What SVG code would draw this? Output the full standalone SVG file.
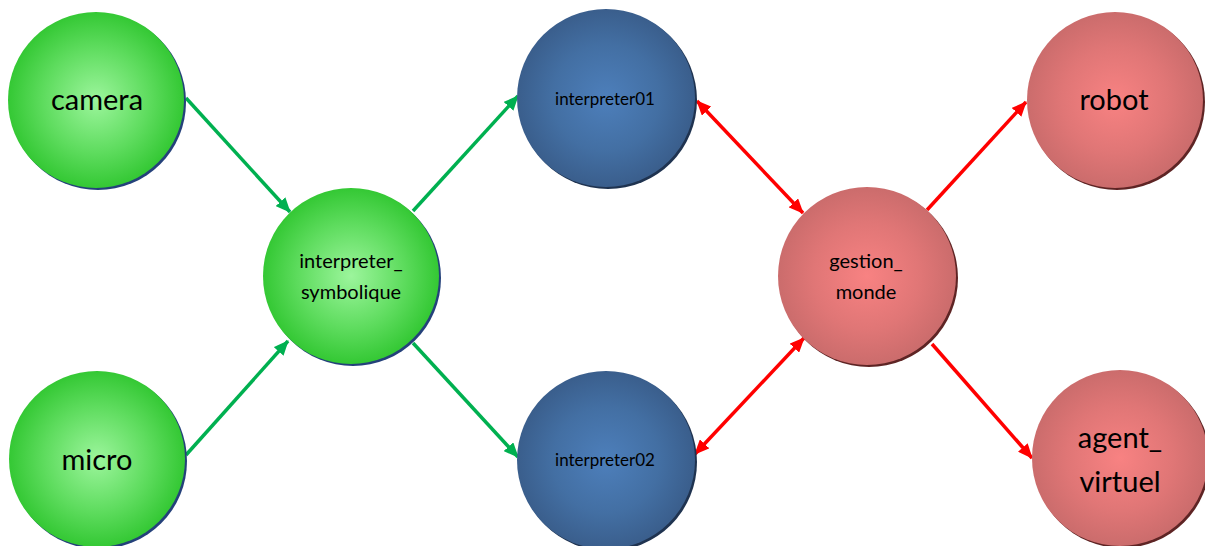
<svg xmlns="http://www.w3.org/2000/svg" width="1205" height="546" viewBox="0 0 1205 546">
<style>
.lbl{font-family:Lato,"Open Sans","Liberation Sans",sans-serif;fill:#000;text-anchor:middle}
.big{font-size:29px}
.mid{font-size:20px}
.sm{font-size:17px}
.g{stroke:#00b050;stroke-width:3.5;fill:none}
.r{stroke:#ff0000;stroke-width:3.5;fill:none}
</style>
<defs>
<radialGradient id="gGreen" cx="0.5" cy="0.5" r="0.5">
<stop offset="0" stop-color="#9cf59c"/>
<stop offset="0.6" stop-color="#5edc5e"/>
<stop offset="1" stop-color="#34c834"/>
</radialGradient>
<radialGradient id="gBlue" cx="0.5" cy="0.5" r="0.5">
<stop offset="0" stop-color="#4d7fbb"/>
<stop offset="0.6" stop-color="#436fa3"/>
<stop offset="1" stop-color="#3a5e8c"/>
</radialGradient>
<radialGradient id="gRed" cx="0.5" cy="0.5" r="0.5">
<stop offset="0" stop-color="#f88282"/>
<stop offset="0.6" stop-color="#e07676"/>
<stop offset="1" stop-color="#cb6c6c"/>
</radialGradient>
<marker id="ag" viewBox="0 0 15 13" refX="14" refY="6.5" markerWidth="15" markerHeight="13" markerUnits="userSpaceOnUse" orient="auto-start-reverse">
<path d="M0,0 L15,6.5 L0,13 Z" fill="#00b050"/>
</marker>
<marker id="ar" viewBox="0 0 15 13" refX="14" refY="6.5" markerWidth="15" markerHeight="13" markerUnits="userSpaceOnUse" orient="auto-start-reverse">
<path d="M0,0 L15,6.5 L0,13 Z" fill="#ff0000"/>
</marker>
</defs>
<rect width="1205" height="546" fill="#fff"/>
<g id="connectors">
<line class="g" x1="186" y1="98" x2="290" y2="212" marker-end="url(#ag)"/>
<line class="g" x1="186" y1="455" x2="288" y2="341" marker-end="url(#ag)"/>
<line class="g" x1="413" y1="211" x2="518" y2="96" marker-end="url(#ag)"/>
<line class="g" x1="413" y1="343" x2="518" y2="457" marker-end="url(#ag)"/>
<line class="r" x1="697" y1="101" x2="803" y2="213" marker-start="url(#ar)" marker-end="url(#ar)"/>
<line class="r" x1="695" y1="454" x2="804" y2="338" marker-start="url(#ar)" marker-end="url(#ar)"/>
<line class="r" x1="927" y1="210" x2="1026" y2="102" marker-end="url(#ar)"/>
<line class="r" x1="932" y1="344" x2="1032" y2="458" marker-end="url(#ar)"/>
</g>
<g id="camera">
<circle cx="98" cy="102" r="88" fill="#24417a"/>
<circle cx="96" cy="100" r="88" fill="url(#gGreen)"/>
<text class="lbl big" x="97" y="110">camera</text>
</g>
<g id="micro">
<circle cx="99" cy="461" r="88" fill="#24417a"/>
<circle cx="97" cy="459" r="88" fill="url(#gGreen)"/>
<text class="lbl big" x="97" y="470">micro</text>
</g>
<g id="interpreter_symbolique">
<circle cx="353" cy="278" r="88" fill="#24417a"/>
<circle cx="351" cy="276" r="88" fill="url(#gGreen)"/>
<text class="lbl mid" x="351" y="268">interpreter_</text>
<text class="lbl mid" x="351" y="299">symbolique</text>
</g>
<g id="interpreter01">
<circle cx="608" cy="100" r="89" fill="#1f3350"/>
<circle cx="606" cy="98" r="89" fill="url(#gBlue)"/>
<text class="lbl sm" x="605" y="105">interpreter01</text>
</g>
<g id="interpreter02">
<circle cx="608" cy="462" r="89" fill="#1f3350"/>
<circle cx="606" cy="460" r="89" fill="url(#gBlue)"/>
<text class="lbl sm" x="605" y="466">interpreter02</text>
</g>
<g id="gestion_monde">
<circle cx="869" cy="278" r="89" fill="#5e2424"/>
<circle cx="867" cy="276" r="89" fill="url(#gRed)"/>
<text class="lbl mid" x="866" y="268">gestion_</text>
<text class="lbl mid" x="866" y="299">monde</text>
</g>
<g id="robot">
<circle cx="1117" cy="102" r="88" fill="#5e2424"/>
<circle cx="1115" cy="100" r="88" fill="url(#gRed)"/>
<text class="lbl big" x="1114" y="110">robot</text>
</g>
<g id="agent_virtuel">
<circle cx="1122" cy="460" r="88" fill="#5e2424"/>
<circle cx="1120" cy="458" r="88" fill="url(#gRed)"/>
<text class="lbl big" x="1120" y="448">agent_</text>
<text class="lbl big" x="1120" y="492">virtuel</text>
</g>
</svg>
